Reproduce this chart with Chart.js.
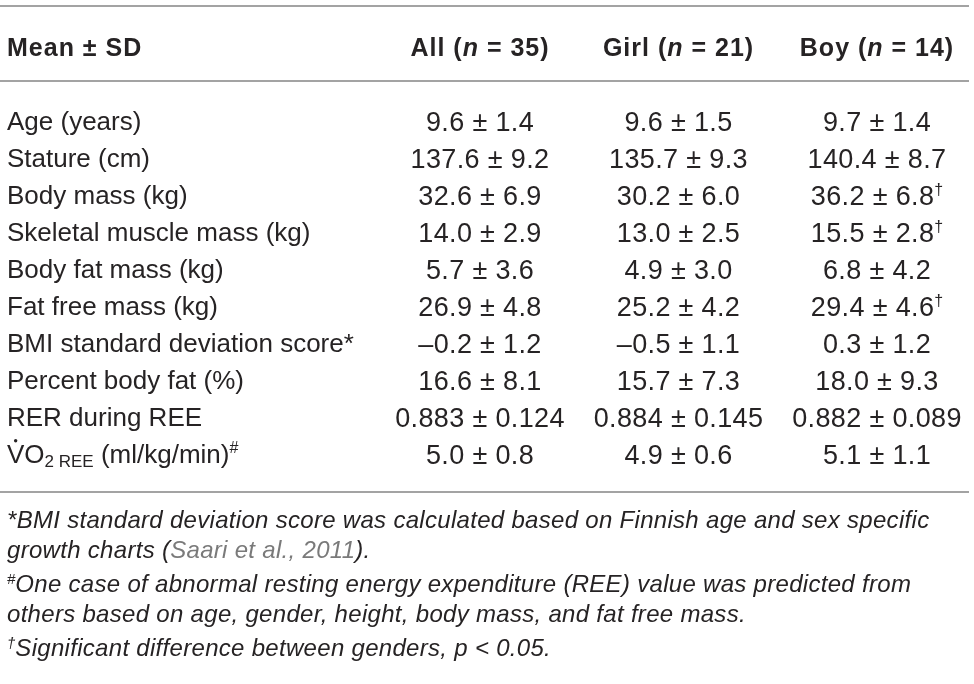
<!DOCTYPE html>
<html>
<head>
<meta charset="utf-8">
<script src="https://cdn.jsdelivr.net/npm/chart.js@4.4.1/dist/chart.umd.min.js"></script>
<style>
  html, body { margin: 0; padding: 0; background: #fff; }
  #wrap { width: 974px; height: 684px; position: relative; }
</style>
</head>
<body>
<div id="wrap"><canvas id="tbl"></canvas></div>
<script>
// table data
const columns = ['All', 'Girl', 'Boy'];
const columnN = [35, 21, 14];
const rowLabels = [
  'Age (years)',
  'Stature (cm)',
  'Body mass (kg)',
  'Skeletal muscle mass (kg)',
  'Body fat mass (kg)',
  'Fat free mass (kg)',
  'BMI standard deviation score*',
  'Percent body fat (%)',
  'RER during REE',
  'VO2 REE (ml/kg/min)#'
];
const decimals = [1, 1, 1, 1, 1, 1, 1, 1, 3, 1];

const allMean  = [9.6, 137.6, 32.6, 14.0, 5.7, 26.9, -0.2, 16.6, 0.883, 5.0];
const allSD    = [1.4, 9.2, 6.9, 2.9, 3.6, 4.8, 1.2, 8.1, 0.124, 0.8];
const girlMean = [9.6, 135.7, 30.2, 13.0, 4.9, 25.2, -0.5, 15.7, 0.884, 4.9];
const girlSD   = [1.5, 9.3, 6.0, 2.5, 3.0, 4.2, 1.1, 7.3, 0.145, 0.6];
const boyMean  = [9.7, 140.4, 36.2, 15.5, 6.8, 29.4, 0.3, 18.0, 0.882, 5.1];
const boySD    = [1.4, 8.7, 6.8, 2.8, 4.2, 4.6, 1.2, 9.3, 0.089, 1.1];
const boySig   = [false, false, true, true, false, true, false, false, false, false];

const TEXT = '#262324';
const RULE = '#a3a3a3';
const FAM = '"Liberation Sans", Arial, sans-serif';
const LABEL = '26px ' + FAM;
const VALUE = '27px ' + FAM;
const SMALL = '16px ' + FAM;
const SUB = '17px ' + FAM;
const HEAD = 'bold 25px ' + FAM;
const HEAD_I = 'italic bold 25px ' + FAM;
const NOTE = 'italic 24px ' + FAM;
const NOTE_SUP = 'italic 15px ' + FAM;

function fmt(v, d) {
  return (v < 0 ? '\u2013' : '') + Math.abs(v).toFixed(d);
}

function makeData(mean, sd, col, sig) {
  return mean.map((m, i) => ({
    x: col,
    y: rowLabels[i],
    text: fmt(m, decimals[i]) + ' \u00b1 ' + fmt(sd[i], decimals[i]),
    sig: sig ? sig[i] : false
  }));
}

function runsWidth(ctx, runs) {
  let w = 0;
  runs.forEach(r => {
    ctx.font = r.font;
    ctx.letterSpacing = r.ls || '0px';
    w += ctx.measureText(r.t).width;
  });
  return w;
}

function drawRuns(ctx, runs, x, y, align) {
  let cx = align === 'center' ? x - runsWidth(ctx, runs) / 2 : x;
  runs.forEach(r => {
    ctx.font = r.font;
    ctx.letterSpacing = r.ls || '0px';
    ctx.fillStyle = r.color || TEXT;
    ctx.fillText(r.t, cx, y + (r.dy || 0));
    const w = ctx.measureText(r.t).width;
    if (r.dot) {
      ctx.beginPath();
      ctx.arc(cx + w / 2, y - 22.5, 1.7, 0, Math.PI * 2);
      ctx.fill();
    }
    cx += w;
  });
  ctx.letterSpacing = '0px';
}

function labelRuns(label) {
  if (label.startsWith('VO2')) {
    return [
      {t: 'V', font: LABEL, dot: true},
      {t: 'O', font: LABEL},
      {t: '2 REE', font: SUB, dy: 4},
      {t: ' (ml/kg/min)', font: LABEL},
      {t: '#', font: SMALL, dy: -10}
    ];
  }
  return [{t: label, font: LABEL}];
}

const tablePlugin = {
  id: 'tableText',
  afterDatasetsDraw(chart) {
    const {ctx, scales} = chart;
    const xs = scales.x, ys = scales.y;
    const top = ys.getPixelForValue(0);
    const last = ys.getPixelForValue(rowLabels.length - 1);
    const left = 0, right = 969;
    ctx.save();
    ctx.textBaseline = 'alphabetic';

    // horizontal rules
    ctx.strokeStyle = RULE;
    ctx.lineWidth = 2;
    [top - 115, top - 40, last + 38].forEach(y => {
      ctx.beginPath();
      ctx.moveTo(left, y);
      ctx.lineTo(right, y);
      ctx.stroke();
    });

    // header
    const hy = top - 74 + 8.8;
    const hls = '1px';
    drawRuns(ctx, [{t: 'Mean \u00b1 SD', font: HEAD, ls: hls}], 7, hy, 'left');
    columns.forEach((c, i) => {
      drawRuns(ctx, [
        {t: c + ' (', font: HEAD, ls: hls},
        {t: 'n', font: HEAD_I, ls: hls},
        {t: ' = ' + columnN[i] + ')', font: HEAD, ls: hls}
      ], xs.getPixelForValue(i), hy, 'center');
    });

    // row labels
    rowLabels.forEach((r, i) => {
      drawRuns(ctx, labelRuns(r), 7, ys.getPixelForValue(i) + 9.3, 'left');
    });

    // cells
    chart.data.datasets.forEach((ds, di) => {
      const meta = chart.getDatasetMeta(di);
      meta.data.forEach((pt, i) => {
        const d = ds.data[i];
        const runs = [{t: d.text, font: VALUE, ls: '0.35px'}];
        if (d.sig) runs.push({t: '\u2020', font: SMALL, dy: -10});
        drawRuns(ctx, runs, pt.x, pt.y + 9.6, 'center');
      });
    });

    // footnotes: lines within a note 30px apart, a little extra between notes
    const ls = '0.3px';
    const notes = [
      [
        [{t: '*BMI standard deviation score was calculated based on Finnish age and sex specific', font: NOTE, ls}],
        [{t: 'growth charts (', font: NOTE, ls}, {t: 'Saari et al., 2011', font: NOTE, ls, color: '#7a7a7a'}, {t: ').', font: NOTE, ls}]
      ],
      [
        [{t: '#', font: NOTE_SUP, dy: -8}, {t: 'One case of abnormal resting energy expenditure (REE) value was predicted from', font: NOTE, ls}],
        [{t: 'others based on age, gender, height, body mass, and fat free mass.', font: NOTE, ls}]
      ],
      [
        [{t: '\u2020', font: NOTE_SUP, dy: -8}, {t: 'Significant difference between genders, p < 0.05.', font: NOTE, ls}]
      ]
    ];
    let fy = last + 65 + 8.6;
    notes.forEach(note => {
      note.forEach(runs => {
        drawRuns(ctx, runs, 7, fy, 'left');
        fy += 30;
      });
      fy += 4;
    });
    ctx.restore();
  }
};

const tableConfig = {
  type: 'scatter',
  data: {
    datasets: [
      {label: 'All', data: makeData(allMean, allSD, 'All'), pointRadius: 0},
      {label: 'Girl', data: makeData(girlMean, girlSD, 'Girl'), pointRadius: 0},
      {label: 'Boy', data: makeData(boyMean, boySD, 'Boy', boySig), pointRadius: 0}
    ]
  },
  options: {
    responsive: true,
    maintainAspectRatio: false,
    animation: false,
    events: [],
    plugins: {
      legend: {display: false},
      tooltip: {enabled: false}
    },
    layout: {
      padding: {top: 121, bottom: 230, left: 480, right: 97}
    },
    scales: {
      x: {type: 'category', labels: columns, offset: false, display: false},
      y: {type: 'category', labels: rowLabels, offset: false, display: false}
    }
  },
  plugins: [tablePlugin]
};

const tableChart = new Chart(document.getElementById('tbl'), tableConfig);
</script>
</body>
</html>
